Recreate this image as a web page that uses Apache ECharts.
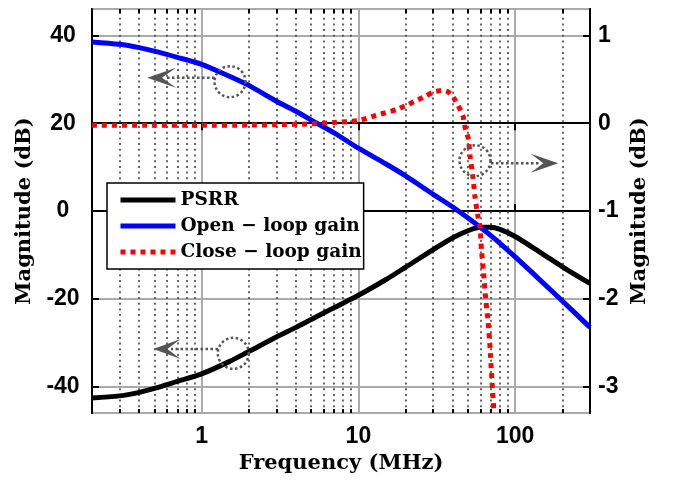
<!DOCTYPE html>
<html><head><meta charset="utf-8">
<script src="https://cdn.jsdelivr.net/npm/echarts@6/dist/echarts.min.js"></script>
<style>html,body{margin:0;padding:0;background:#fff}#c{width:673px;height:481px}</style>
</head><body><div id="c"></div>
<script>
// Frequencies (MHz) for PSRR and open-loop gain
const freq = [0.2, 0.3, 0.4, 0.5, 0.7, 1, 1.5, 2, 3, 4, 5, 7, 10, 15, 20, 30, 40, 50, 60, 70, 80, 100, 150, 200, 300];
// PSRR (dB, left axis)
const psrr = [-42.6, -42.1, -41.3, -40.4, -38.8, -37.1, -34.3, -32.0, -28.7, -26.5, -24.7, -22.0, -19.2, -15.6, -12.8, -8.8, -6.1, -4.5, -3.7, -3.7, -4.2, -5.8, -9.8, -12.7, -16.5];
// Open-loop gain (dB, left axis)
const openLoop = [38.5, 37.95, 37.2, 36.4, 35.0, 33.4, 30.7, 28.6, 25.0, 22.7, 20.7, 17.8, 14.3, 10.7, 8.0, 3.8, 0.9, -1.6, -3.7, -5.6, -7.35, -10.45, -16.3, -20.5, -26.5];
// Close-loop gain (dB, right axis)
const closeFreq = [0.2, 0.5, 1, 2, 3, 5, 7, 10, 13, 17.6, 20, 23, 27, 30, 34.7, 37, 39.4, 41.5, 43.3, 45, 46.4, 47.9, 50.3, 51.5, 53.9, 55.4, 58.1, 59.7, 61, 62.6, 65, 67.3, 69.1, 71, 73];
const closeLoop = [-0.025, -0.025, -0.024, -0.022, -0.018, -0.008, 0.008, 0.03, 0.09, 0.155, 0.2, 0.25, 0.31, 0.355, 0.375, 0.36, 0.32, 0.26, 0.2, 0.14, 0.09, -0.045, -0.18, -0.37, -0.63, -0.84, -1.08, -1.18, -1.45, -1.67, -2.02, -2.27, -2.55, -2.92, -3.25];
// Minor (dotted) vertical grid positions and labelled decades
const minorGridFreqs = [0.3, 0.4, 0.5, 0.6, 0.7, 0.8, 0.9, 2, 3, 4, 5, 6, 7, 8, 9, 20, 30, 40, 50, 60, 70, 80, 90, 200];
const xTickLabels = [1, 10, 100];
const names = ['PSRR', 'Open \u2212 loop gain', 'Close \u2212 loop gain'];

const yMin = -46, yMax = 46;
const chart = echarts.init(document.getElementById('c'));
const tickFont = {fontFamily: 'Liberation Sans', fontWeight: 'bold', fontSize: 23, color: '#000'};
const titleFont = {fontFamily: 'DejaVu Serif', fontWeight: 'bold', fontSize: 21, color: '#000'};
const axisLine = {show: true, lineStyle: {color: '#000', width: 2}};
const gridLine = {show: true, lineStyle: {color: '#aaaaaa', width: 2}};
const tick = {show: true, inside: true, length: 7, lineStyle: {color: '#000', width: 2}};

function annotation(cx, cy, lx0, lx1, ly, tipX, backX, notchX, half) {
  return [
    {type: 'circle', z: 50, shape: {cx: cx, cy: cy, r: 15.5}, style: {fill: null, stroke: '#555', lineWidth: 2.5, lineDash: [2.5, 2.5]}},
    {type: 'line', z: 50, shape: {x1: lx0, y1: ly, x2: lx1, y2: ly}, style: {stroke: '#555', lineWidth: 2.5, lineDash: [2.5, 2.5]}},
    {type: 'polygon', z: 50, shape: {points: [[tipX, ly], [backX, ly - half], [notchX, ly], [backX, ly + half]]}, style: {fill: '#555', stroke: null}}
  ];
}

// short solid minor ticks on bottom and top edges
const minorTickSegs = [];
minorGridFreqs.forEach(f => {
  minorTickSegs.push([{coord: [f, yMin]}, {coord: [f, yMin + 0.9]}]);
  minorTickSegs.push([{coord: [f, yMax]}, {coord: [f, yMax - 0.9]}]);
});

const option = {
  animation: false,
  backgroundColor: '#fff',
  grid: {left: 92, right: 83, top: 9, bottom: 68, show: true, borderColor: '#000', borderWidth: 2},
  legend: {
    orient: 'vertical', left: 107, top: 183, data: names,
    itemWidth: 55, itemHeight: 14, itemGap: 4, padding: [6, 2, 6, 11],
    backgroundColor: '#fff', borderColor: '#000', borderWidth: 1.5, z: 20,
    itemStyle: {opacity: 0},
    lineStyle: {width: 5},
    textStyle: {fontFamily: 'DejaVu Serif', fontWeight: 'bold', fontSize: 18.5, lineHeight: 22, color: '#000'}
  },
  xAxis: [{
    type: 'log', logBase: 10, min: 0.2, max: 300, position: 'bottom',
    axisLine: axisLine, axisTick: tick,
    axisLabel: Object.assign({margin: 12, showMinLabel: false, showMaxLabel: false,
      formatter: function (v) { const r = Math.round(v * 1000) / 1000; return xTickLabels.indexOf(r) >= 0 ? String(r) : ''; }}, tickFont),
    splitLine: gridLine,
    name: 'Frequency (MHz)', nameLocation: 'middle', nameGap: 38, nameTextStyle: titleFont
  }, {
    type: 'log', logBase: 10, min: 0.2, max: 300, position: 'top',
    axisLine: axisLine, axisTick: tick,
    axisLabel: {show: false}, splitLine: {show: false}
  }],
  yAxis: [{
    type: 'value', min: yMin, max: yMax, splitNumber: 5, position: 'left',
    axisLine: axisLine, axisTick: tick,
    axisLabel: Object.assign({margin: 29, align: 'center', showMinLabel: false, showMaxLabel: false}, tickFont),
    splitLine: gridLine,
    name: 'Magnitude (dB)', nameLocation: 'middle', nameGap: 55, nameTextStyle: titleFont
  }, {
    type: 'value', min: -3.3, max: 1.3, splitNumber: 5, position: 'right',
    axisLine: axisLine, axisTick: tick,
    axisLabel: Object.assign({margin: 8, align: 'left', showMinLabel: false, showMaxLabel: false}, tickFont),
    splitLine: {show: false},
    name: 'Magnitude (dB)', nameLocation: 'middle', nameGap: 38, nameTextStyle: titleFont
  }],
  series: [{
    name: names[0], type: 'line', xAxisIndex: 0, yAxisIndex: 0, smooth: 0.3, symbol: 'none', z: 3,
    data: freq.map((f, i) => [f, psrr[i]]),
    lineStyle: {color: '#000', width: 5},
    itemStyle: {color: '#000'},
    markLine: {
      silent: true, z: 1, animation: false, symbol: ['none', 'none'], label: {show: false},
      lineStyle: {color: '#555', type: [2, 3.7], width: 1.8},
      emphasis: {disabled: true},
      data: minorGridFreqs.map(v => ({xAxis: v}))
    }
  }, {
    name: names[1], type: 'line', xAxisIndex: 0, yAxisIndex: 0, smooth: 0.3, symbol: 'none', z: 3,
    data: freq.map((f, i) => [f, openLoop[i]]),
    lineStyle: {color: '#0000ff', width: 5},
    itemStyle: {color: '#0000ff'},
    markLine: {
      silent: true, z: 6, animation: false, symbol: ['none', 'none'], label: {show: false},
      lineStyle: {color: '#000', type: 'solid', width: 2},
      emphasis: {disabled: true},
      data: minorTickSegs
    }
  }, {
    name: names[2], type: 'line', xAxisIndex: 0, yAxisIndex: 1, smooth: 0.2, symbol: 'none', z: 4,
    data: closeFreq.map((f, i) => [f, closeLoop[i]]),
    lineStyle: {color: '#ff0000', width: 5, type: [5, 5], cap: 'butt'},
    itemStyle: {color: '#ff0000'}
  }],
  graphic: [].concat(
    annotation(230, 81.7, 214.5, 166, 77.7, 147.3, 176, 162, 10),
    annotation(233.3, 353.3, 218, 171, 349, 153.3, 180.7, 167.3, 10),
    annotation(475, 160.7, 491, 539, 163.3, 558.3, 530.7, 543.3, 9.5)
  )
};
chart.setOption(option);
</script>
</body></html>
